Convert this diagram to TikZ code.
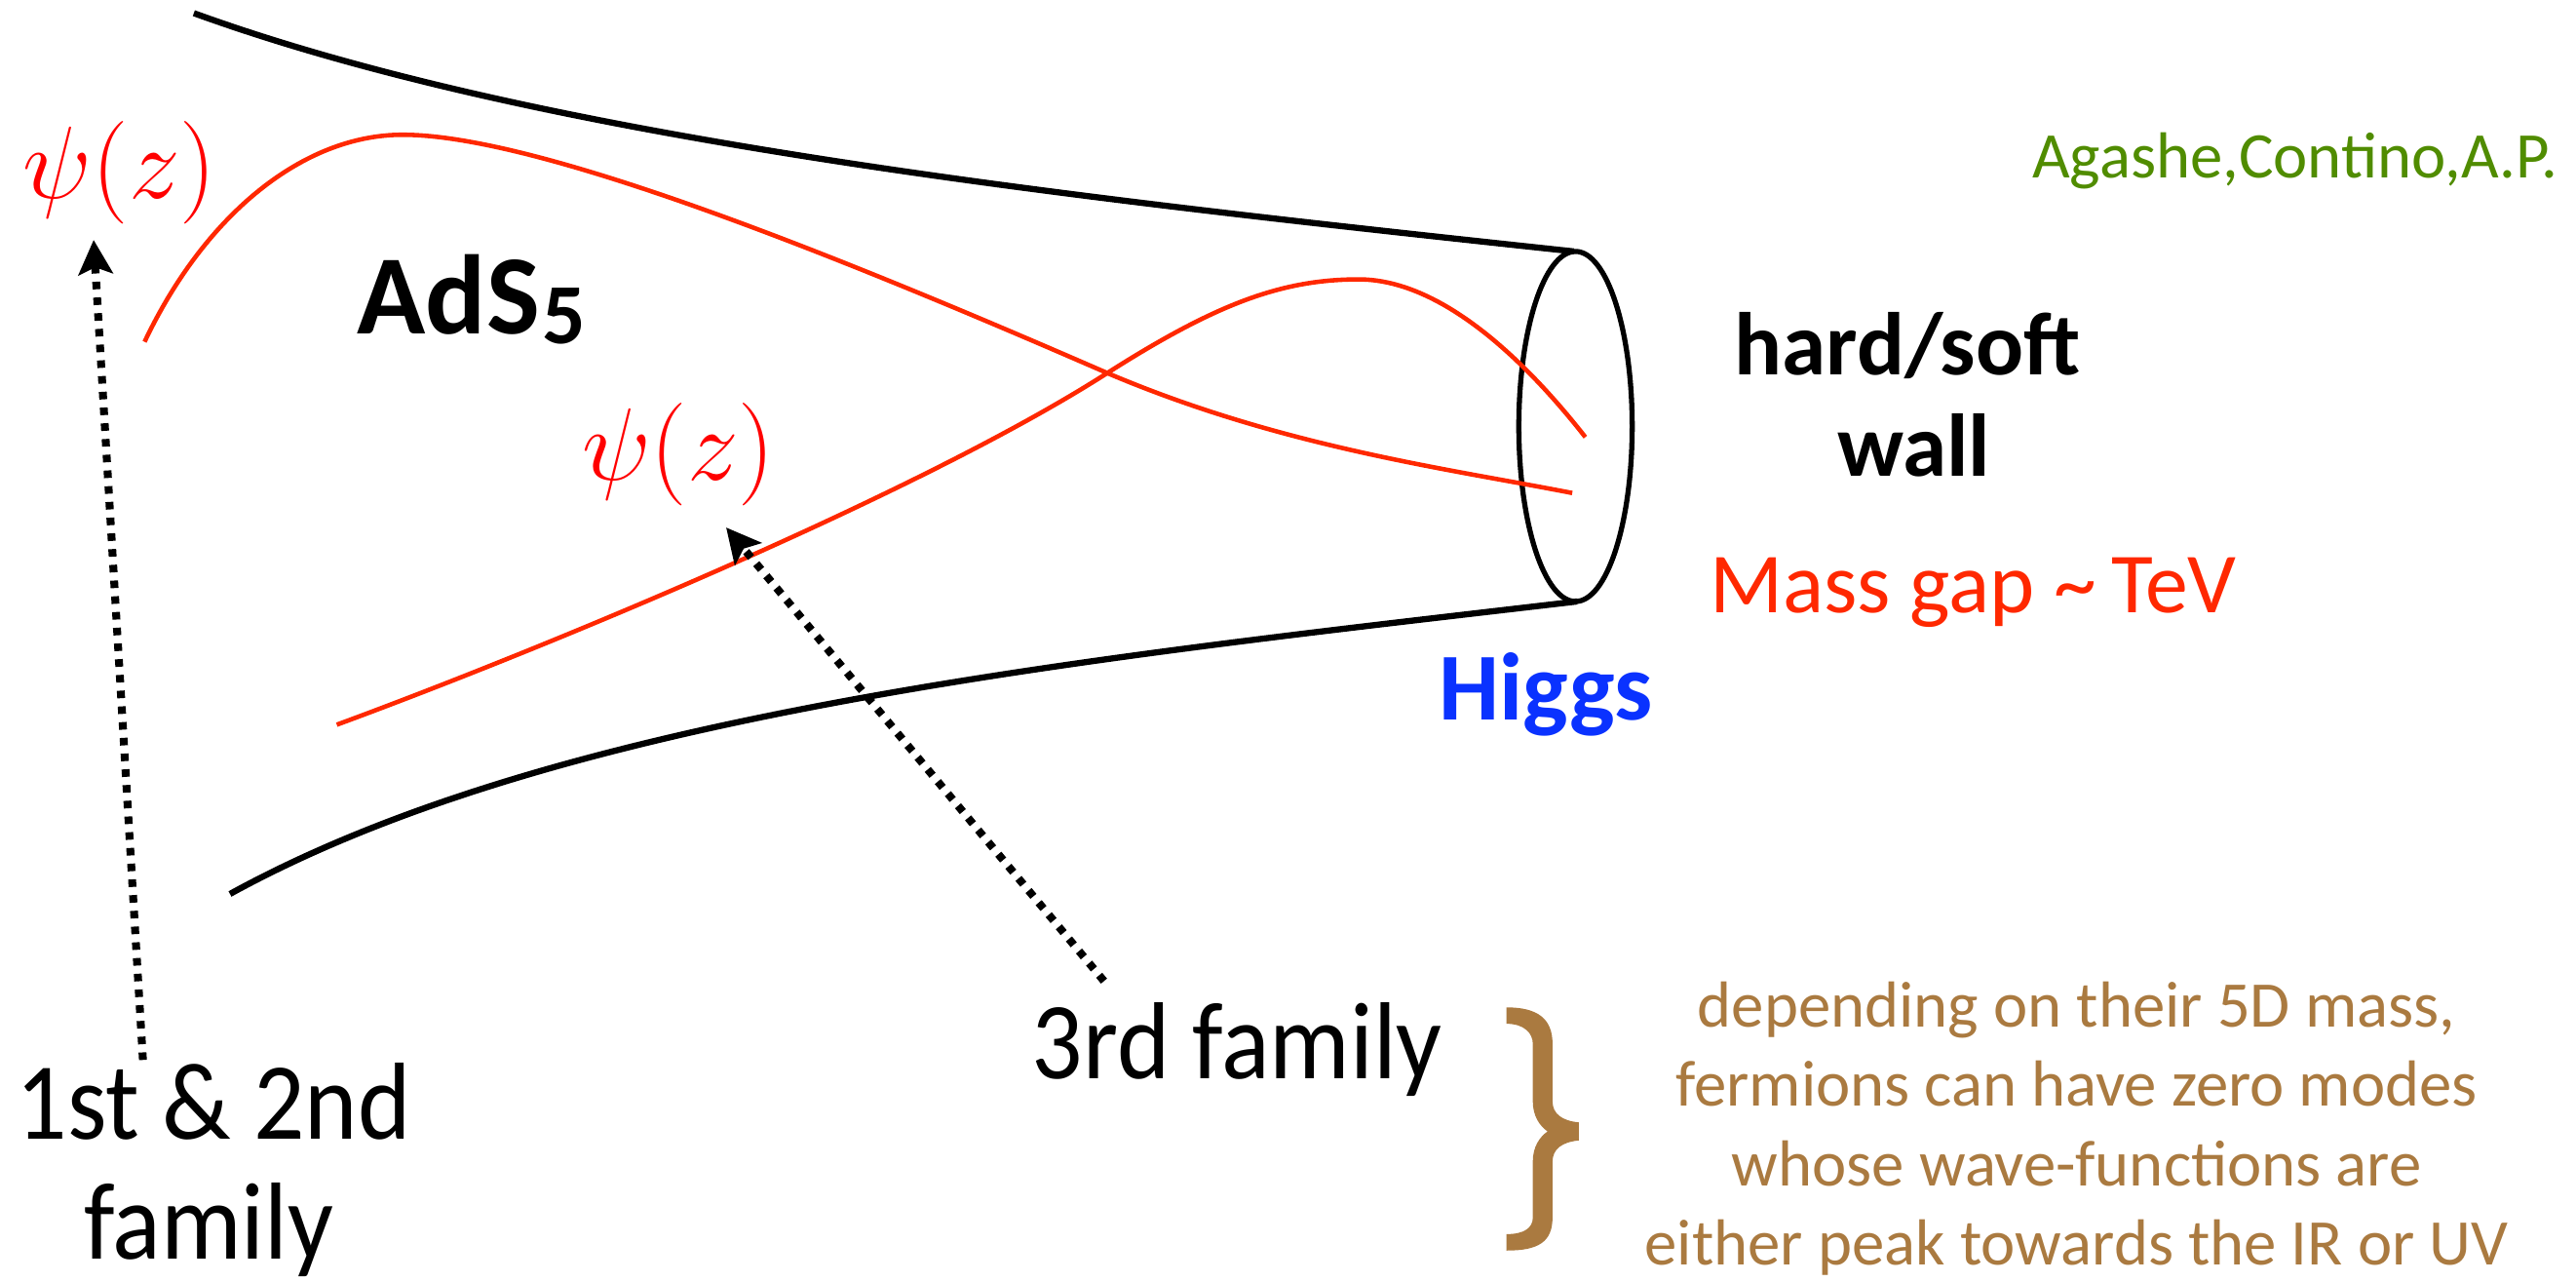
\RequirePackage{fix-cm}
\documentclass[tikz,border=0pt]{standalone}
\usepackage[no-math]{fontspec}
\setmainfont{Carlito}
\newfontfamily\labelfont{Carlito}[FakeStretch=0.92]
\usetikzlibrary{arrows.meta}

\definecolor{wavered}{RGB}{255,40,0}
\definecolor{psired}{RGB}{255,0,0}
\definecolor{higgsblue}{RGB}{10,50,255}
\definecolor{refgreen}{RGB}{80,140,0}
\definecolor{notebrown}{RGB}{170,122,64}

\begin{document}
\begin{tikzpicture}[x=0.016856cm, y=-0.016856cm,
  every node/.style={inner sep=0pt},
  tube/.style={line width=1.8pt},
  wave/.style={wavered, line width=1.3pt},
  pointer/.style={line width=2.3pt, dash pattern=on 2.2pt off 2.4pt, -{Stealth[length=10pt,width=10pt,inset=2pt]}},
  psi/.style={psired, anchor=base, font=\fontsize{30}{32}\selectfont},
  big/.style={anchor=base, font=\labelfont\fontsize{32}{36}\selectfont}]
  \useasboundingbox (0,0) rectangle (1568,780);

  % the throat of AdS5
  \draw[tube] (118,8) .. controls (330,85) and (650,120) .. (958,153);
  \draw[tube] (140,544) .. controls (340,434) and (660,401) .. (960,366);
  \draw[line width=1.5pt] (959,259.5) ellipse [x radius=34.5, y radius=106.5];

  % zero mode profiles
  \draw[wave] (88,208) .. controls (125,130) and (185,82) .. (245,82)
    .. controls (330,82) and (520,160) .. (674,227)
    .. controls (780,272) and (880,285) .. (957,300);
  \draw[wave] (205,441) .. controls (330,395) and (560,300) .. (674,227)
    .. controls (740,185) and (780,170) .. (827,170)
    .. controls (875,170) and (925,215) .. (965,266);

  \node[psi] (psiuv) at (73,121) {$\psi(z)$};
  \node[psi] (psiir) at (413,292) {$\psi(z)$};
  \node[anchor=base west, font=\fontsize{33}{36}\selectfont\bfseries] (ads) at (217,203) {AdS\kern0.8pt\raisebox{-3pt}{\fontsize{25}{25}\selectfont 5}};
  \node[anchor=base, font=\fontsize{26}{30}\selectfont\bfseries] (hardsoft) at (1161,228) {hard/soft};
  \node[anchor=base, font=\fontsize{26}{30}\selectfont\bfseries] (wall) at (1165,290) {wall};
  \node[anchor=base, wavered, font=\fontsize{25}{30}\selectfont] (gap) at (1201,373) {Mass gap \textasciitilde\,TeV};
  \node[anchor=base, higgsblue, font=\fontsize{28}{30}\selectfont\bfseries] (higgs) at (941,438) {Higgs};
  \node[anchor=base, refgreen, font=\fontsize{19}{24}\selectfont] (cite) at (1397,108) {Agashe,Contino,A.P.};

  \node[big] (fam12) at (130,693) {1st \& 2nd};
  \node[big] (fam12b) at (127,766) {family};
  \node[big] (fam3) at (753,656.5) {3rd family};

  \coordinate (tail12) at (87,645);
  \coordinate (tip12) at (57,146);
  \coordinate (tail3) at (672,597);
  \coordinate (tip3) at (442,321);
  \draw[pointer] (tail12) -- (tip12);
  \draw[pointer] (tail3) -- (tip3);

  % brace and remark
  \fill[notebrown] (917,613) .. controls (936,613) and (945,620) .. (945,635) -- (945,670)
    .. controls (945,678) and (951,682) .. (961,683) -- (961,694)
    .. controls (951,695) and (945,699) .. (945,707) -- (945,741)
    .. controls (945,756) and (936,761) .. (917,761) -- (917,751)
    .. controls (928,751) and (933,747) .. (933,741) -- (933,707)
    .. controls (933,698) and (937,692) .. (942,688.5)
    .. controls (937,685) and (933,679) .. (933,670) -- (933,635)
    .. controls (933,629) and (928,623) .. (917,623) -- cycle;
  \node[anchor=north, align=center, notebrown, font=\fontsize{19}{23.2}\selectfont] (note) at (1264,597)
    {depending on their 5D mass,\\fermions can have zero modes\\whose wave-functions are\\either peak towards the IR or UV};
\end{tikzpicture}
\end{document}
